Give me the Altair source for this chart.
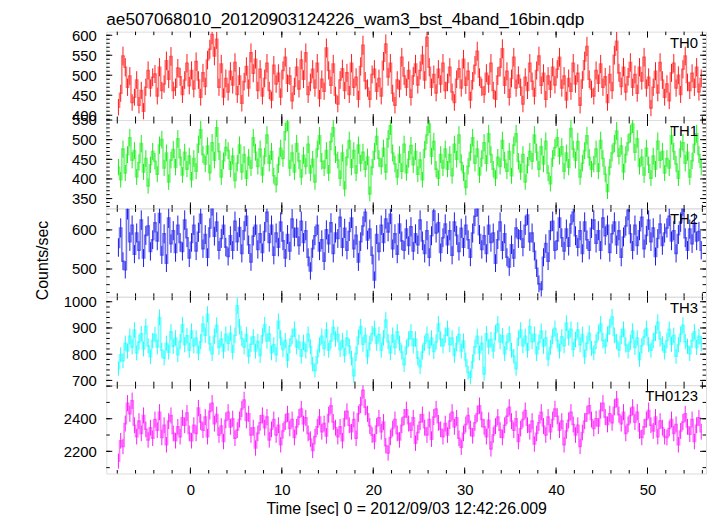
import altair as alt
import numpy as np
import pandas as pd

TITLE = "ae507068010_20120903124226_wam3_bst_4band_16bin.qdp"
X_TITLE = "Time [sec] 0 = 2012/09/03 12:42:26.009"
Y_TITLE = "Counts/sec"
FONT = "Liberation Sans"

T_START = -8.0
BIN = 0.25
X_DOMAIN = [-9.2, 56.4]
X_LABELS = [0, 10, 20, 30, 40, 50]
X_MAJOR = 10
X_MINOR = 2

BANDS = ["TH0", "TH1", "TH2", "TH3", "TH0123"]
COLORS = ["#ff1a1a", "#1aee1a", "#1a1aee", "#1affff", "#ff1aff"]
Y_DOMAINS = [[388, 609], [325, 550], [429, 655], [682, 1019], [2064, 2606]]
Y_LABELS = [[400, 450, 500, 550, 600], [350, 400, 450, 500, 550], [500, 600],
            [700, 800, 900, 1000], [2200, 2400]]
Y_MAJOR = [50, 50, 100, 100, 200]
Y_MINOR = [10, 10, 20, 20, 100]

TH0 = [420, 455, 548, 520, 470, 498, 432, 445, 488, 425, 462, 410, 470, 512, 468, 495,
       503, 448, 520, 462, 478, 536, 490, 547, 462, 470, 518, 496, 452, 488, 530, 474,
       512, 466, 534, 488, 445, 506, 472, 538, 565, 602, 548, 590, 470, 528, 446, 492,
       458, 510, 476, 532, 452, 498, 430, 484, 522, 468, 556, 505, 540, 462, 515, 448,
       492, 530, 462, 438, 525, 478, 505, 446, 512, 545, 480, 498, 436, 472, 520, 466,
       538, 490, 556, 452, 482, 515, 468, 530, 442, 490, 460, 568, 512, 475, 528, 450,
       428, 488, 516, 462, 506, 452, 530, 470, 495, 440, 522, 575, 486, 468, 440, 502,
       515, 460, 492, 448, 535, 578, 496, 530, 455, 425, 488, 466, 545, 498, 470, 512,
       445, 498, 528, 476, 512, 550, 488, 595, 520, 470, 502, 456, 515, 478, 530, 462,
       482, 520, 458, 432, 490, 516, 468, 540, 475, 510, 438, 486, 525, 560, 495, 470,
       452, 505, 478, 530, 462, 440, 498, 520, 566, 475, 510, 445, 492, 545, 468, 500,
       470, 428, 495, 462, 530, 485, 448, 512, 548, 475, 505, 440, 498, 465, 520, 476,
       515, 545, 468, 498, 438, 492, 460, 530, 478, 505, 425, 488, 536, 572, 490, 465,
       448, 512, 480, 528, 470, 496, 432, 502, 462, 550, 585, 506, 472, 520, 458, 496,
       532, 470, 502, 455, 520, 486, 545, 468, 495, 418, 470, 510, 456, 532, 488, 445,
       478, 436, 506, 530, 468, 500, 452, 515, 548, 482, 462, 505, 470, 520, 458, 492]

TH1 = [430, 398, 476, 415, 462, 505, 448, 472, 405, 442, 490, 418, 452, 382, 436, 470,
       445, 412, 486, 500, 428, 466, 392, 448, 475, 430, 502, 455, 410, 468, 425, 458,
       398, 452, 420, 488, 525, 462, 438, 484, 416, 492, 448, 530, 470, 405, 446, 480,
       472, 425, 458, 396, 440, 486, 418, 462, 402, 455, 428, 505, 468, 432, 476, 410,
       458, 512, 440, 470, 408, 385, 436, 478, 452, 520, 545, 428, 466, 418, 490, 446,
       405, 460, 432, 488, 415, 450, 392, 476, 510, 445, 428, 472, 415, 495, 530, 462,
       448, 402, 466, 375, 455, 498, 430, 472, 415, 486, 440, 468, 425, 456, 362, 430,
       470, 508, 452, 432, 478, 418, 502, 535, 466, 438, 405, 462, 420, 488, 416, 450,
       485, 436, 470, 412, 448, 398, 475, 512, 540, 458, 495, 425, 402, 462, 428, 476,
       425, 462, 408, 488, 450, 512, 442, 415, 378, 432, 468, 505, 440, 476, 410, 452,
       492, 440, 515, 462, 425, 402, 455, 432, 498, 448, 420, 470, 408, 486, 515, 445,
       418, 462, 392, 435, 470, 445, 512, 468, 425, 482, 438, 496, 415, 388, 452, 480,
       505, 458, 482, 420, 466, 430, 528, 476, 448, 495, 405, 440, 472, 510, 455, 425,
       438, 476, 420, 498, 452, 412, 368, 430, 466, 490, 522, 458, 484, 418, 462, 492,
       515, 540, 468, 502, 432, 455, 410, 478, 436, 402, 458, 425, 496, 448, 470, 415,
       452, 428, 510, 470, 438, 402, 476, 492, 440, 468, 405, 446, 488, 515, 462, 430]

TH2 = [555, 605, 520, 498, 652, 570, 612, 538, 592, 548, 625, 528, 586, 610, 545, 575,
       618, 572, 642, 536, 590, 515, 630, 565, 598, 542, 612, 568, 545, 625, 580, 528,
       568, 612, 546, 594, 640, 552, 588, 530, 605, 662, 584, 620, 548, 578, 612, 556,
       532, 585, 548, 622, 570, 606, 540, 598, 635, 562, 518, 584, 612, 550, 590, 542,
       596, 645, 568, 612, 535, 592, 556, 620, 572, 528, 588, 546, 628, 582, 604, 560,
       622, 568, 598, 530, 495, 552, 585, 612, 546, 575, 520, 600, 565, 618, 540, 592,
       578, 632, 556, 604, 548, 596, 630, 552, 586, 518, 570, 610, 645, 574, 602, 535,
       472, 588, 545, 612, 568, 628, 595, 640, 552, 590, 538, 615, 572, 548, 602, 560,
       608, 546, 590, 562, 625, 572, 540, 598, 530, 585, 648, 592, 618, 542, 580, 615,
       562, 598, 535, 620, 586, 545, 604, 556, 612, 575, 530, 592, 635, 660, 588, 550,
       585, 540, 612, 568, 592, 515, 575, 620, 548, 590, 530, 505, 562, 528, 605, 578,
       598, 556, 612, 638, 570, 592, 545, 502, 462, 448, 530, 565, 520, 598, 622, 548,
       572, 630, 580, 546, 602, 558, 615, 645, 585, 556, 598, 540, 620, 575, 548, 604,
       625, 566, 598, 548, 630, 585, 612, 542, 590, 620, 562, 598, 530, 582, 610, 650,
       590, 548, 612, 560, 598, 632, 552, 586, 625, 570, 605, 532, 578, 615, 560, 592,
       605, 635, 572, 598, 540, 588, 620, 662, 580, 548, 602, 565, 618, 572, 596, 548]

TH3 = [745, 798, 775, 842, 812, 868, 828, 892, 805, 846, 878, 820, 905, 832, 790, 852,
       875, 828, 940, 815, 785, 842, 808, 885, 830, 862, 798, 848, 912, 836, 870, 815,
       888, 832, 862, 805, 848, 915, 872, 952, 840, 802, 868, 910, 826, 858, 812, 876,
       842, 880, 808, 872, 985, 905, 860, 828, 875, 792, 838, 866, 812, 848, 795, 870,
       912, 850, 878, 805, 836, 798, 925, 862, 818, 852, 776, 832, 868, 895, 828, 846,
       792, 845, 812, 876, 828, 762, 738, 790, 835, 868, 822, 892, 815, 850, 902, 858,
       875, 818, 852, 796, 862, 830, 785, 718, 802, 865, 905, 838, 872, 790, 842, 878,
       898, 842, 875, 815, 862, 930, 848, 805, 872, 826, 885, 842, 808, 760, 826, 858,
       885, 832, 858, 785, 752, 808, 842, 876, 825, 862, 810, 846, 915, 858, 832, 872,
       898, 836, 862, 795, 840, 875, 812, 850, 778, 730, 712, 772, 828, 868, 805, 842,
       725, 878, 828, 856, 812, 882, 915, 848, 870, 802, 845, 878, 815, 792, 745, 860,
       892, 832, 868, 815, 905, 848, 876, 802, 845, 888, 830, 862, 782, 826, 868, 898,
       852, 812, 866, 832, 918, 862, 895, 818, 856, 892, 836, 875, 790, 842, 880, 822,
       805, 848, 882, 915, 852, 830, 876, 905, 942, 872, 848, 816, 868, 895, 835, 812,
       845, 888, 826, 862, 780, 832, 865, 898, 836, 815, 852, 880, 922, 858, 840, 808,
       852, 895, 838, 872, 792, 836, 876, 910, 848, 830, 802, 852, 885, 826, 868, 840]

TH0123 = [2140, 2265, 2230, 2370, 2495, 2430, 2510, 2360, 2290, 2385, 2310, 2420, 2335, 2270, 2345, 2280,
          2395, 2330, 2440, 2285, 2360, 2240, 2385, 2420, 2310, 2265, 2350, 2290, 2405, 2360, 2435, 2310,
          2265, 2360, 2310, 2465, 2380, 2330, 2410, 2290, 2445, 2495, 2370, 2425, 2300, 2355, 2260, 2390,
          2440, 2350, 2400, 2280, 2330, 2395, 2460, 2515, 2390, 2430, 2300, 2345, 2220, 2310, 2375, 2420,
          2345, 2410, 2270, 2335, 2395, 2300, 2360, 2240, 2325, 2380, 2430, 2340, 2395, 2285, 2350, 2410,
          2460, 2370, 2405, 2310, 2275, 2205, 2290, 2350, 2410, 2320, 2370, 2295, 2425, 2480, 2380, 2345,
          2290, 2350, 2265, 2400, 2445, 2360, 2320, 2395, 2280, 2430, 2485, 2575, 2470, 2430, 2355, 2300,
          2260, 2355, 2405, 2320, 2380, 2235, 2190, 2285, 2340, 2395, 2310, 2270, 2360, 2410, 2455, 2370,
          2330, 2405, 2250, 2315, 2380, 2425, 2345, 2300, 2395, 2275, 2410, 2460, 2375, 2335, 2290, 2370,
          2300, 2385, 2440, 2350, 2405, 2280, 2225, 2310, 2365, 2420, 2340, 2295, 2375, 2430, 2480, 2395,
          2350, 2290, 2390, 2215, 2300, 2355, 2410, 2330, 2285, 2360, 2415, 2470, 2385, 2330, 2400, 2260,
          2340, 2395, 2450, 2360, 2320, 2385, 2245, 2310, 2375, 2440, 2355, 2300, 2410, 2320, 2395, 2460,
          2415, 2330, 2385, 2240, 2325, 2390, 2440, 2365, 2300, 2360, 2230, 2315, 2385, 2430, 2480, 2395,
          2340, 2400, 2355, 2450, 2495, 2410, 2365, 2430, 2375, 2470, 2520, 2425, 2370, 2440, 2310, 2365,
          2420, 2470, 2380, 2440, 2325, 2285, 2350, 2395, 2450, 2360, 2325, 2410, 2290, 2385, 2345, 2290,
          2285, 2340, 2395, 2310, 2365, 2240, 2325, 2380, 2430, 2350, 2305, 2395, 2260, 2360, 2405, 2320]

SERIES = [TH0, TH1, TH2, TH3, TH0123]

W, H = 604, 89
MAJ_LEN, MIN_LEN = 6, 3.5

xscale = alt.Scale(domain=X_DOMAIN, nice=False, zero=False, clamp=True)


def in_range(lo, hi, step):
    start = np.ceil(lo / step) * step
    vals = np.arange(start, hi + 1e-9, step)
    return [float(v) for v in vals]


panels = []
for i, (band, vals) in enumerate(zip(BANDS, SERIES)):
    rate = np.array(vals, dtype=float)
    err = np.sqrt(rate)
    t = T_START + BIN * (np.arange(len(rate)) + 0.5)
    df = pd.DataFrame({"t": t, "rate": rate, "lo": rate - err, "hi": rate + err})
    lo_d, hi_d = Y_DOMAINS[i]
    yscale = alt.Scale(domain=Y_DOMAINS[i], nice=False, zero=False, clamp=True)
    color = COLORS[i]

    if i == len(BANDS) - 1:
        xaxis = alt.Axis(values=X_LABELS, ticks=False, domain=False, grid=False,
                         labelPadding=9, title=X_TITLE, titlePadding=3,
                         labelFontSize=15, titleFontSize=16, titleFontWeight="normal",
                         format="d")
    else:
        xaxis = None

    yaxis_kw = dict(values=Y_LABELS[i], ticks=False, domain=False, grid=False,
                    labelPadding=10, labelFontSize=15, labelOverlap=False,
                    labelFlush=False, format="d")
    if i == 2:
        yaxis = alt.Axis(title=Y_TITLE, titleFontSize=16, titleX=-64, titleY=52,
                         titleAngle=270, titleAlign="center", titleBaseline="middle",
                         titleFontWeight="normal", **yaxis_kw)
    else:
        yaxis = alt.Axis(title=None, **yaxis_kw)

    def X(field):
        return alt.X(field, scale=xscale, axis=xaxis, title=X_TITLE if xaxis else None)

    def Y(field):
        return alt.Y(field, scale=yscale, axis=yaxis, title=Y_TITLE if i == 2 else None)

    base = alt.Chart(df)
    errbars = base.mark_rule(color=color, strokeWidth=1, opacity=1, clip=True).encode(
        x=X("t:Q"), y=Y("lo:Q"), y2="hi:Q")
    steps = base.mark_line(interpolate="step", color=color, strokeWidth=1.6,
                           opacity=0.6, clip=True).encode(x=X("t:Q"), y=Y("rate:Q"))

    layers = [errbars, steps]

    def rule(df_, **enc):
        return alt.Chart(df_).mark_rule(color="black", strokeWidth=1).encode(**enc)

    for step, ln in ((X_MAJOR, MAJ_LEN), (X_MINOR, MIN_LEN)):
        d = pd.DataFrame({"v": in_range(X_DOMAIN[0], X_DOMAIN[1], step)})
        layers.append(rule(d, x=X("v:Q"), y=alt.value(0), y2=alt.value(ln)))
        layers.append(rule(d, x=X("v:Q"), y=alt.value(H), y2=alt.value(H - ln)))
    for step, ln in ((Y_MAJOR[i], MAJ_LEN), (Y_MINOR[i], MIN_LEN)):
        d = pd.DataFrame({"v": in_range(lo_d, hi_d, step)})
        layers.append(rule(d, y=Y("v:Q"), x=alt.value(0), x2=alt.value(ln)))
        layers.append(rule(d, y=Y("v:Q"), x=alt.value(W), x2=alt.value(W - ln)))

    label = alt.Chart(pd.DataFrame({"label": [band]})).mark_text(
        align="right", baseline="alphabetic", fontSize=15, font=FONT, color="black"
    ).encode(text="label:N", x=alt.value(W - 8), y=alt.value(16))
    layers.append(label)

    p = alt.layer(*layers).properties(width=W, height=H)
    if i == 0:
        p = p.properties(title=alt.TitleParams(
            TITLE, anchor="start", frame="group", fontSize=17.3, font=FONT,
            fontWeight="normal", offset=0, color="black"))
    panels.append(p)

chart = alt.vconcat(*panels, spacing=0, bounds="flush").properties(
    padding={"left": 26, "top": 0, "right": 2, "bottom": 0}
).configure_view(stroke="black", strokeWidth=1).configure_axis(
    labelFont=FONT, titleFont=FONT, labelColor="black", titleColor="black",
    titleFontWeight="normal"
).configure(background="white")

chart.save("out.html", embed_options={"renderer": "svg", "actions": False})
